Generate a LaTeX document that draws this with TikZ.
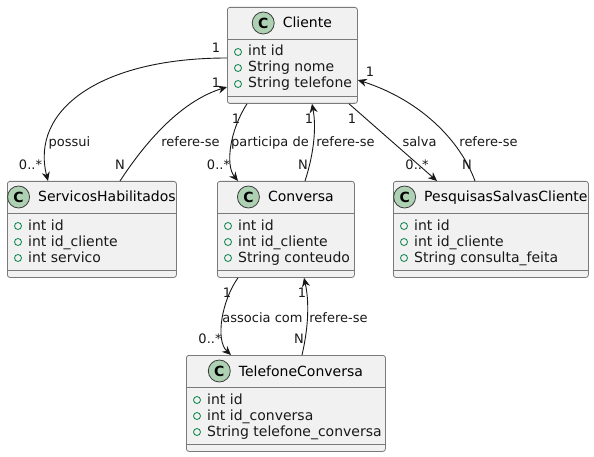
\documentclass[tikz,border=0pt]{standalone}
\usepackage{fontspec}
\setmainfont{DejaVu Sans}
\usetikzlibrary{arrows.meta,calc}
\definecolor{boxfill}{HTML}{F1F1F1}
\definecolor{boxline}{HTML}{7A7A7A}
\definecolor{edgecol}{HTML}{181818}
\definecolor{cfill}{HTML}{ADD1B2}
\definecolor{visgreen}{HTML}{038048}
\tikzset{
  classbox/.style={draw=boxline, fill=boxfill, rounded corners=2.5pt, line width=0.8pt, anchor=north west, inner sep=0pt, minimum height=96pt},
  sepline/.style={draw=boxline, line width=0.8pt},
  cicon/.style={circle, draw=edgecol!85, fill=cfill, minimum size=22pt, inner sep=0pt, line width=0.8pt, font=\fontsize{14}{14}\selectfont\bfseries},
  cname/.style={font=\fontsize{14}{17}\selectfont, inner sep=0pt, anchor=base},
  attr/.style={font=\fontsize{14}{17}\selectfont, inner sep=0pt, anchor=base west, text=black!90},
  vis/.style={circle, draw=visgreen, minimum size=7pt, inner sep=0pt, line width=0.8pt},
  rel/.style={draw=edgecol, line width=0.9pt, -{Stealth[length=9pt,width=8pt,inset=3pt]}},
  elab/.style={font=\fontsize{13}{15}\selectfont, inner sep=0pt, anchor=base, text=black!90},
}
% id, left, top, width, title, attr1, attr2, attr3
\newcommand{\umlclass}[8]{%
  \node[classbox, minimum width=#4pt] (#1) at (#2,#3) {};
  \draw[sepline] ([yshift=-32pt]#1.north west) -- ([yshift=-32pt]#1.north east);
  \draw[sepline] ([yshift=-89pt]#1.north west) -- ([yshift=-89pt]#1.north east);
  \node[cname] (#1-name) at ([xshift=15pt,yshift=-21pt]#1.north) {#5};
  \node[cicon, anchor=east] (#1-c) at ($(#1-name.west |- #1.north)+(-8,16)$) {C};
  \node[vis] (#1-v1) at ($(#1.north west)+(11,45)$) {};
  \node[vis] (#1-v2) at ($(#1.north west)+(11,61)$) {};
  \node[vis] (#1-v3) at ($(#1.north west)+(11,77)$) {};
  \node[attr] (#1-a1) at ($(#1.north west)+(21,49)$) {#6};
  \node[attr] (#1-a2) at ($(#1.north west)+(21,65)$) {#7};
  \node[attr] (#1-a3) at ($(#1.north west)+(21,81)$) {#8};
}
\begin{document}
\begin{tikzpicture}[x=1pt,y=-1pt]
\useasboundingbox[fill=white] (0,0) rectangle (594,457);

\umlclass{cliente}{227}{7}{130}{Cliente}{int id}{String nome}{String telefone}
\umlclass{servicos}{7}{181}{169}{ServicosHabilitados}{int id}{int id\_cliente}{int servico}
\umlclass{conversa}{217}{181}{137}{Conversa}{int id}{int id\_cliente}{String conteudo}
\umlclass{pesquisas}{393}{181}{195}{PesquisasSalvasCliente}{int id}{int id\_cliente}{String consulta\_feita}
\umlclass{telefone}{186}{355}{199}{TelefoneConversa}{int id}{int id\_conversa}{String telefone\_conversa}

% Cliente -> ServicosHabilitados
\draw[rel] ([yshift=-51pt]cliente.north west) .. controls (100,58) and (30,110) .. ([xshift=41pt]servicos.north west);
\node[elab] (m1a) at (216,53) {1};
\node[elab] (m1b) at (30.5,170) {0..*};
\node[elab] (m1l) at (69.5,147) {possui};

% ServicosHabilitados -> Cliente
\draw[rel] ([xshift=113pt]servicos.north west) .. controls (150,135) and (185,100) .. ([yshift=-80pt]cliente.north west);
\node[elab] (m2a) at (216,88) {1};
\node[elab] (m2b) at (120,170) {N};
\node[elab] (m2l) at (190.5,147) {refere-se};

% Cliente -> Conversa
\draw[rel] ([xshift=20pt]cliente.south west) .. controls (230,130) and (225,165) .. ([xshift=21pt]conversa.north west);
\node[elab] (m3a) at (236,124) {1};
\node[elab] (m3b) at (218.5,170) {0..*};
\node[elab] (m3l) at (270,147) {participa de};

% Conversa -> Cliente
\draw[rel] ([xshift=88pt]conversa.north west) .. controls (315,150) and (316,125) .. ([xshift=85pt]cliente.south west);
\node[elab] (m4a) at (309,124) {1};
\node[elab] (m4b) at (303,170) {N};
\node[elab] (m4l) at (345.5,147) {refere-se};

% Cliente -> PesquisasSalvasCliente
\draw[rel] ([xshift=122pt]cliente.south west) -- ([xshift=44pt]pesquisas.north west);
\node[elab] (m5a) at (352,124) {1};
\node[elab] (m5b) at (417,170) {0..*};
\node[elab] (m5l) at (419.5,147) {salva};

% PesquisasSalvasCliente -> Cliente
\draw[rel] ([xshift=82pt]pesquisas.north west) .. controls (460,140) and (420,100) .. ([yshift=-73pt]cliente.north east);
\node[elab] (m6a) at (370,77) {1};
\node[elab] (m6b) at (467,170) {N};
\node[elab] (m6l) at (488.5,147) {refere-se};

% Conversa -> TelefoneConversa
\draw[rel] ([xshift=21pt]conversa.south west) .. controls (222,300) and (215,340) .. ([xshift=45pt]telefone.north west);
\node[elab] (m7a) at (227,297) {1};
\node[elab] (m7b) at (210,343) {0..*};
\node[elab] (m7l) at (262.5,322) {associa com};

% TelefoneConversa -> Conversa
\draw[rel] ([xshift=116pt]telefone.north west) .. controls (309,325) and (309,300) .. ([xshift=87pt]conversa.south west);
\node[elab] (m8a) at (302,297) {1};
\node[elab] (m8b) at (299,343) {N};
\node[elab] (m8l) at (338.5,322) {refere-se};
\end{tikzpicture}
\end{document}
